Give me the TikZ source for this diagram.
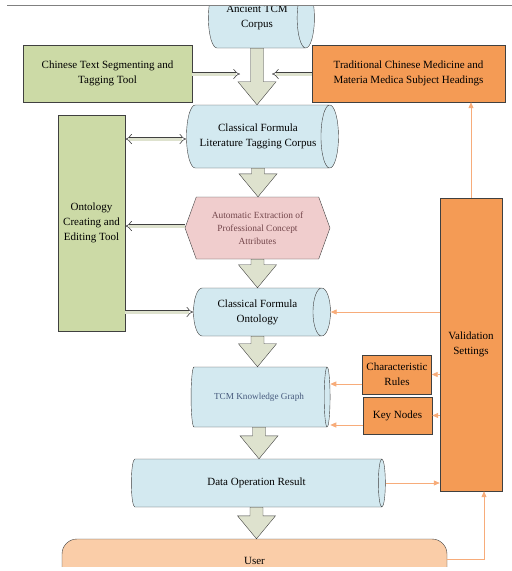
\documentclass[tikz,border=0pt]{standalone}
\usepackage{fontspec}
\setmainfont{Liberation Serif}
\usepackage{tikz}
\usetikzlibrary{positioning,calc,arrows.meta,shapes.geometric,shapes.symbols}

\definecolor{corpusblue}{RGB}{211,233,240}
\definecolor{toolgreen}{RGB}{204,218,166}
\definecolor{valorange}{RGB}{244,155,85}
\definecolor{extractpink}{RGB}{240,205,205}
\definecolor{extracttext}{RGB}{115,70,75}
\definecolor{graphtext}{RGB}{70,90,125}
\definecolor{userpeach}{RGB}{250,205,168}
\definecolor{flowfill}{RGB}{222,226,206}
\definecolor{edgegray}{RGB}{64,64,64}
\definecolor{linkorange}{RGB}{247,172,122}

% big block arrow going down from one node to the next
\newcommand{\flowarrow}[2]{%
\path[bigflow] let \p1=(#1.south), \p2=(#2.north) in
(\x1-6.5pt,\y1) -- (\x1+6.5pt,\y1) -- (\x1+6.5pt,\y2+23pt) -- (\x1+19pt,\y2+23pt)
-- (\x1,\y2) -- (\x1-19pt,\y2+23pt) -- (\x1-6.5pt,\y2+23pt) -- cycle;}

\begin{document}
\begin{tikzpicture}[x=1pt,y=-1pt,
font=\fontsize{11}{15}\selectfont,
corpus/.style={
cylinder,
draw=edgegray,
fill=corpusblue,
align=center,
shape aspect=0.7,
inner sep=0pt
},
tool/.style={
rectangle,
draw=edgegray,
fill=toolgreen,
align=center
},
setting/.style={
rectangle,
draw=edgegray,
fill=valorange,
align=center
},
bigflow/.style={draw=edgegray,fill=flowfill,line join=miter},
flow/.style={draw=edgegray,double=flowfill,double distance=3pt,semithick,-{Implies[scale=3.2]}},
twoflow/.style={flow,{Implies[scale=3.2]}-{Implies[scale=3.2]}},
check/.style={draw=linkorange,thick,-{Triangle[length=6pt,width=5pt]}},
]
\useasboundingbox (0,0) rectangle (512,571);
\begin{scope}
\clip (0,5.5) rectangle (512,566);
\node (ancient) [corpus,minimum height=106,minimum width=60] at (257,18) {Ancient TCM\\Corpus};
\node (litcorpus) [corpus,minimum height=152,minimum width=63] at (258,136.5) {Classical Formula\\Literature Tagging Corpus};
\node (extract) [signal,signal to=east and west,signal pointer angle=140,draw=edgegray,fill=extractpink,
  text=extracttext,align=center,minimum width=145,minimum height=62,
  font=\fontsize{9.4}{13}\selectfont] at (257.5,228) {Automatic Extraction of\\Professional Concept\\Attributes};
\node (ontology) [corpus,minimum height=137,minimum width=48] at (257.5,312) {Classical Formula\\Ontology};
\node (graph) [corpus,minimum height=139,minimum width=60,text=graphtext,
  font=\fontsize{9.2}{12}\selectfont] at (259,397) {TCM Knowledge Graph};
\node (result) [corpus,minimum height=254,minimum width=48] at (256.5,483) {Data Operation Result};
\node (user) [rectangle,rounded corners=15,draw=edgegray,fill=userpeach,minimum width=385,minimum height=44] at (254.5,561) {User};

\node (segment) [tool,minimum width=169,minimum height=57] at (107.5,73.5) {Chinese Text Segmenting and\\Tagging Tool};
\node (headings) [setting,minimum width=193,minimum height=57] at (408.5,73.5) {Traditional Chinese Medicine and\\Materia Medica Subject Headings};
\node (editor) [tool,minimum width=67,minimum height=216] at (91.5,223) {Ontology\\Creating and\\Editing Tool};
\node (validation) [setting,minimum width=62,minimum height=293] at (471,344.5) {Validation\\Settings};
\node (rules) [setting,minimum width=69,minimum height=39] at (397,374.5) {Characteristic\\Rules};
\node (keynodes) [setting,minimum width=69,minimum height=37] at (397.5,415.5) {Key Nodes};

\coordinate (mergeleft) at (240,74);
\coordinate (mergeright) at (272,74);

\flowarrow{ancient}{litcorpus}
\flowarrow{litcorpus}{extract}
\flowarrow{extract}{ontology}
\flowarrow{ontology}{graph}
\flowarrow{graph}{result}
\flowarrow{result}{user}

\draw[flow] (segment.east |- mergeleft) -- (mergeleft);
\draw[flow] (headings.west |- mergeright) -- (mergeright);
\draw[twoflow] ([yshift=-2.5pt]litcorpus.west -| editor.east) -- ([yshift=-2.5pt]litcorpus.west);
\draw[flow] ([yshift=2pt]extract.west) -- ([yshift=2pt]extract.west -| editor.east);
\draw[flow] (ontology.west -| editor.east) -- (ontology.west);

\draw[check] (validation.west |- ontology.east) -- (ontology.east);
\draw[check] (validation.west |- rules.east) -- (rules.east);
\draw[check] (validation.west |- keynodes.east) -- (keynodes.east);
\draw[check] ([yshift=-9.5pt]rules.west) -- ([yshift=-9.5pt]rules.west -| graph.east);
\draw[check] ([yshift=-9.5pt]keynodes.west) -- ([yshift=-9.5pt]keynodes.west -| graph.east);
\draw[check] (validation.north) -- (validation.north |- headings.south);
\draw[check] (result.east) -- (result.east -| validation.west);
\draw[check] ([yshift=2pt]user.east) -| ([xshift=13pt]validation.south);
\end{scope}
\draw[gray,thick] (7,5) -- (512,5);
\end{tikzpicture}
\end{document}
